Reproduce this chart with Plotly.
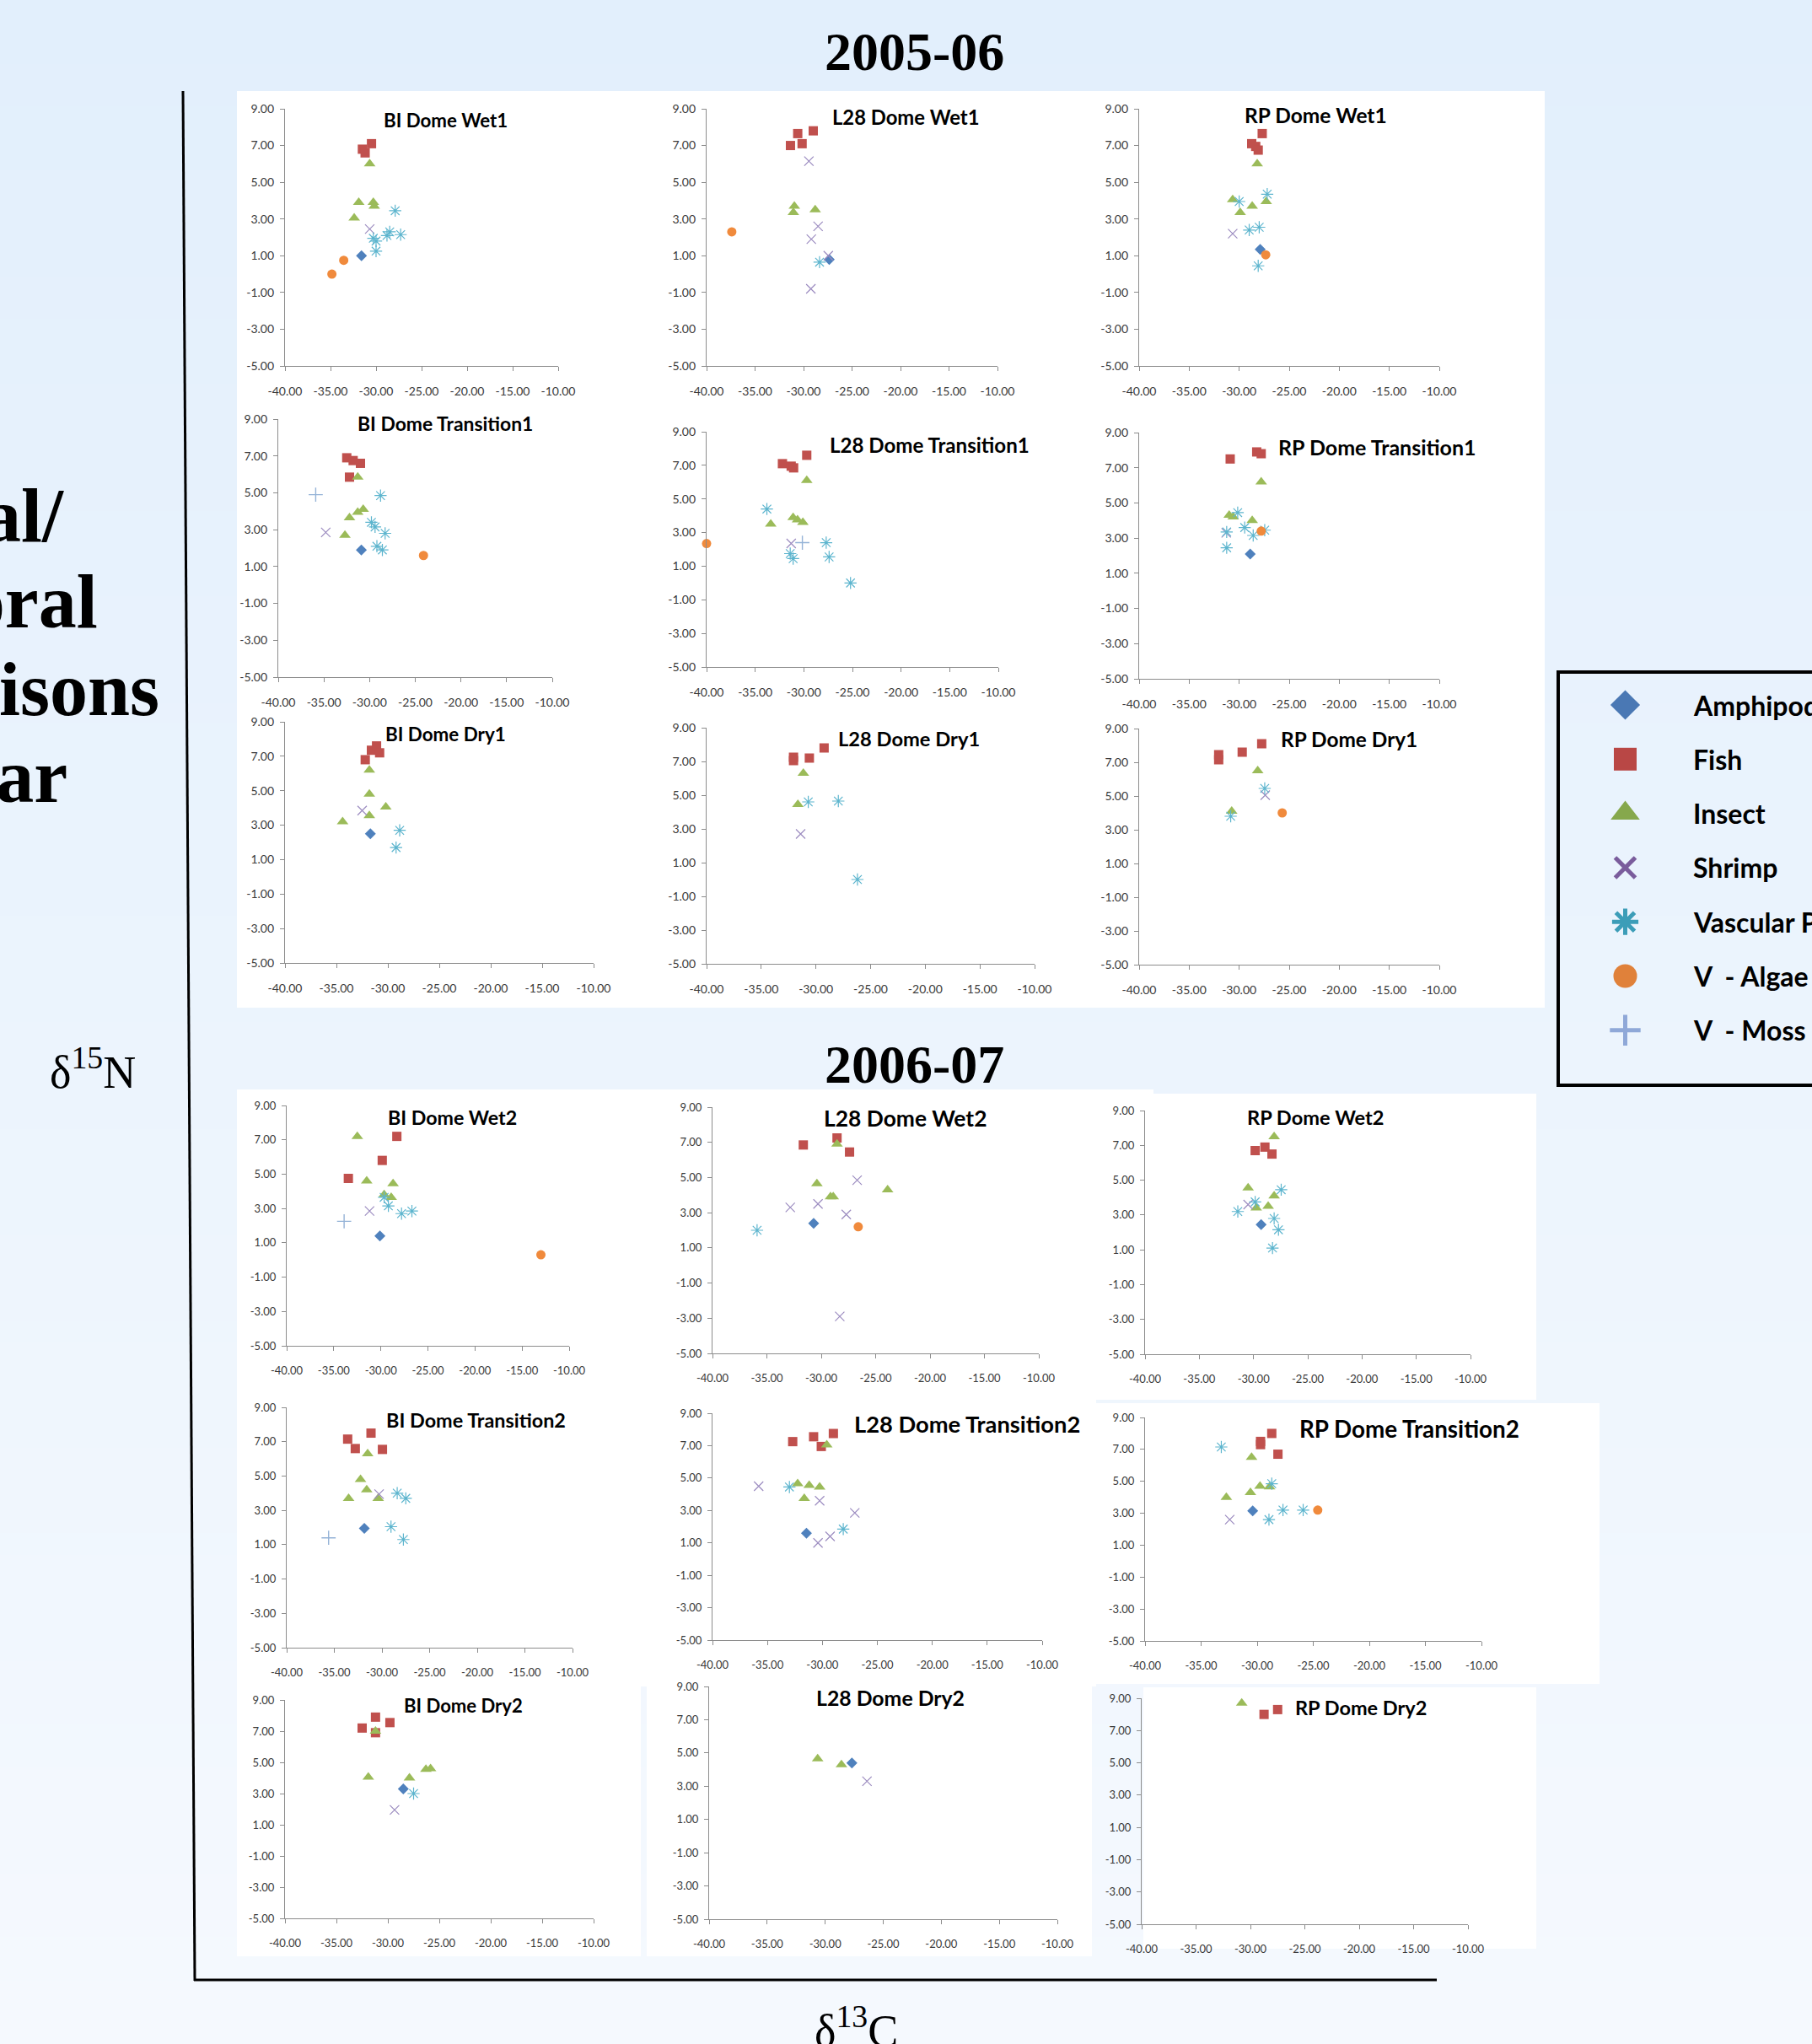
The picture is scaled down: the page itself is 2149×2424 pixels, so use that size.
import plotly.graph_objects as go

# ---------------------------------------------------------------------------
# Data: delta13C (x) and delta15N (y) values per site / season panel
# ---------------------------------------------------------------------------
CATEGORIES = ["Amphipod", "Fish", "Insect", "Shrimp", "Vascular Plant", "V - Algae", "V - Moss"]
LEGEND_LABELS = ["Amphipod", "Fish", "Insect", "Shrimp", "Vascular Plant", "V\u00a0 - Algae", "V\u00a0 - Moss"]

X_TICKS = [-40, -35, -30, -25, -20, -15, -10]
X_TICK_LABELS = ["-40.00", "-35.00", "-30.00", "-25.00", "-20.00", "-15.00", "-10.00"]
Y_TICKS = [9, 7, 5, 3, 1, -1, -3, -5]
Y_TICK_LABELS = ["9.00", "7.00", "5.00", "3.00", "1.00", "-1.00", "-3.00", "-5.00"]

PANEL_TITLES = [
    "BI Dome Wet1", "L28 Dome Wet1", "RP Dome Wet1",
    "BI Dome Transition1", "L28 Dome Transition1", "RP Dome Transition1",
    "BI Dome Dry1", "L28 Dome Dry1", "RP Dome Dry1",
    "BI Dome Wet2", "L28 Dome Wet2", "RP Dome Wet2",
    "BI Dome Transition2", "L28 Dome Transition2", "RP Dome Transition2",
    "BI Dome Dry2", "L28 Dome Dry2", "RP Dome Dry2",
]

YEAR_TITLES = ["2005-06", "2006-07"]

BI_WET1 = {
    "Amphipod": ([-31.6], [1.0]),
    "Fish": ([-31.5, -31.2, -30.5], [6.8, 6.6, 7.1]),
    "Insect": ([-30.7, -31.9, -30.3, -30.2, -32.4], [6.0, 3.9, 3.9, 3.7, 3.05]),
    "Shrimp": ([-30.7], [2.45]),
    "Vascular Plant": ([-27.9, -28.5, -28.8, -27.3, -30.3, -30.0, -30.0], [3.45, 2.3, 2.1, 2.15, 1.95, 1.8, 1.25]),
    "V - Algae": ([-33.55, -34.85], [0.75, 0.0]),
}
L28_WET1 = {
    "Amphipod": ([-27.35], [0.8]),
    "Fish": ([-31.35, -30.6, -30.15, -29.0], [7.0, 7.65, 7.1, 7.8]),
    "Insect": ([-30.95, -31.05, -28.8], [3.7, 3.35, 3.5]),
    "Shrimp": ([-29.45, -28.5, -29.2, -27.45, -29.25], [6.15, 2.6, 1.9, 1.0, -0.8]),
    "Vascular Plant": ([-28.35], [0.65]),
    "V - Algae": ([-37.4], [2.3]),
}
RP_WET1 = {
    "Amphipod": ([-27.9], [1.35]),
    "Fish": ([-27.7, -28.75, -28.35, -28.1], [7.65, 7.1, 6.95, 6.75]),
    "Insect": ([-28.2, -30.65, -29.9, -28.7, -27.3], [6.0, 4.05, 3.35, 3.7, 3.95]),
    "Shrimp": ([-30.65], [2.2]),
    "Vascular Plant": ([-30.0, -27.2, -29.0, -28.0, -28.1], [3.95, 4.35, 2.4, 2.55, 0.45]),
    "V - Algae": ([-27.35], [1.05]),
}
BI_TRANSITION1 = {
    "Amphipod": ([-30.9], [1.9]),
    "Fish": ([-32.5, -31.8, -31.0, -32.2], [6.9, 6.75, 6.6, 5.85]),
    "Insect": ([-31.3, -30.7, -31.3, -32.2, -32.7], [5.85, 4.1, 3.95, 3.65, 2.7]),
    "Shrimp": ([-34.8], [2.85]),
    "Vascular Plant": ([-28.8, -29.8, -29.4, -28.3, -29.2, -28.6], [4.85, 3.4, 3.15, 2.8, 2.1, 1.9]),
    "V - Algae": ([-24.1], [1.6]),
    "V - Moss": ([-35.9], [4.9]),
}
L28_TRANSITION1 = {
    "Fish": ([-32.2, -31.3, -31.05, -29.7], [7.1, 6.95, 6.85, 7.6]),
    "Insect": ([-29.7, -33.4, -31.1, -30.65, -30.1], [6.1, 3.5, 3.9, 3.75, 3.6]),
    "Shrimp": ([-31.3], [2.35]),
    "Vascular Plant": ([-33.8, -31.4, -31.1, -27.7, -27.4, -25.2], [4.4, 1.75, 1.45, 2.4, 1.55, 0.0]),
    "V - Algae": ([-40.0], [2.35]),
    "V - Moss": ([-30.15], [2.4]),
}
RP_TRANSITION1 = {
    "Amphipod": ([-28.9], [2.1]),
    "Fish": ([-30.9, -28.25, -27.8], [7.5, 7.9, 7.8]),
    "Insect": ([-27.8, -31.0, -30.6, -28.7], [6.2, 4.3, 4.2, 4.0]),
    "Shrimp": ([-31.3], [3.3]),
    "Vascular Plant": ([-30.15, -31.25, -31.25, -29.45, -28.6, -27.45], [4.45, 3.35, 2.45, 3.6, 3.15, 3.45]),
    "V - Algae": ([-27.8], [3.4]),
}
BI_DRY1 = {
    "Amphipod": ([-31.7], [2.5]),
    "Fish": ([-32.2, -31.6, -31.1, -30.8], [6.8, 7.35, 7.6, 7.2]),
    "Insect": ([-31.8, -31.8, -30.2, -31.8, -34.4], [6.2, 4.8, 4.05, 3.55, 3.2]),
    "Shrimp": ([-32.5], [3.85]),
    "Vascular Plant": ([-28.85, -29.2], [2.7, 1.7]),
}
L28_DRY1 = {
    "Fish": ([-32.05, -32.05, -30.6, -29.25], [7.05, 7.25, 7.2, 7.8]),
    "Insect": ([-31.15, -31.65], [6.3, 4.45]),
    "Shrimp": ([-31.4], [2.7]),
    "Vascular Plant": ([-30.7, -27.95, -26.2], [4.6, 4.65, 0.0]),
}
RP_DRY1 = {
    "Fish": ([-32.05, -32.05, -29.7, -27.75], [7.45, 7.15, 7.6, 8.1]),
    "Insect": ([-28.15, -30.75], [6.5, 4.1]),
    "Shrimp": ([-27.4], [5.05]),
    "Vascular Plant": ([-30.85, -27.45], [3.8, 5.45]),
    "V - Algae": ([-25.7], [4.0]),
}
BI_WET2 = {
    "Amphipod": ([-30.1], [1.4]),
    "Fish": ([-28.3, -29.85, -33.45], [7.2, 5.8, 4.75]),
    "Insect": ([-32.5, -31.5, -28.7, -29.65, -28.9], [7.2, 4.6, 4.45, 3.8, 3.65]),
    "Shrimp": ([-31.2], [2.85]),
    "Vascular Plant": ([-29.65, -29.2, -27.8, -26.7], [3.65, 3.15, 2.7, 2.85]),
    "V - Algae": ([-13.0], [0.3]),
    "V - Moss": ([-33.9], [2.25]),
}
L28_WET2 = {
    "Amphipod": ([-30.7], [2.4]),
    "Fish": ([-31.65, -28.55, -27.4], [6.85, 7.25, 6.45]),
    "Insect": ([-28.55, -30.4, -29.15, -28.9, -23.9], [6.9, 4.65, 3.9, 3.9, 4.3]),
    "Shrimp": ([-26.7, -32.85, -30.3, -27.7, -28.3], [4.85, 3.3, 3.5, 2.9, -2.9]),
    "Vascular Plant": ([-35.9], [2.0]),
    "V - Algae": ([-26.6], [2.2]),
}
RP_WET2 = {
    "Amphipod": ([-29.3], [2.45]),
    "Fish": ([-29.85, -28.95, -28.3], [6.7, 6.9, 6.5]),
    "Insect": ([-28.1, -30.5, -29.75, -28.65, -28.1], [7.5, 4.55, 3.4, 3.5, 4.1]),
    "Shrimp": ([-30.5], [3.6]),
    "Vascular Plant": ([-31.45, -29.85, -27.45, -28.1, -27.7, -28.25], [3.2, 3.75, 4.45, 2.8, 2.15, 1.1]),
}
BI_TRANSITION2 = {
    "Amphipod": ([-31.85], [1.95]),
    "Fish": ([-33.6, -32.8, -31.15, -29.95], [7.15, 6.6, 7.5, 6.55]),
    "Insect": ([-31.5, -32.25, -31.6, -33.5, -30.4], [6.3, 4.8, 4.2, 3.7, 3.7]),
    "Shrimp": ([-30.3], [3.95]),
    "Vascular Plant": ([-28.4, -27.5, -29.05, -27.75], [4.0, 3.7, 2.05, 1.3]),
    "V - Moss": ([-35.6], [1.4]),
}
L28_TRANSITION2 = {
    "Amphipod": ([-31.45], [1.6]),
    "Fish": ([-32.7, -30.8, -30.1, -29.0], [7.25, 7.55, 6.95, 7.75]),
    "Insect": ([-29.6, -32.25, -31.2, -30.25, -31.65], [7.05, 4.65, 4.55, 4.45, 3.75]),
    "Shrimp": ([-35.8, -30.25, -27.05, -29.3, -30.4], [4.5, 3.6, 2.85, 1.4, 1.0]),
    "Vascular Plant": ([-33.0, -28.1], [4.45, 1.85]),
}
RP_TRANSITION2 = {
    "Amphipod": ([-30.4], [3.15]),
    "Fish": ([-28.7, -29.7, -29.7, -28.15], [8.0, 7.5, 7.3, 6.7]),
    "Insect": ([-30.5, -32.75, -30.6, -29.75, -28.9], [6.5, 4.0, 4.3, 4.7, 4.65]),
    "Shrimp": ([-32.45], [2.6]),
    "Vascular Plant": ([-33.2, -28.7, -28.95, -27.7, -25.9], [7.15, 4.85, 2.6, 3.2, 3.2]),
    "V - Algae": ([-24.6], [3.2]),
}
BI_DRY2 = {
    "Amphipod": ([-28.5], [3.3]),
    "Fish": ([-32.5, -31.2, -29.8, -31.2], [7.2, 7.9, 7.55, 6.9]),
    "Insect": ([-31.2, -31.9, -27.9, -26.3, -25.85], [7.0, 4.05, 4.0, 4.55, 4.6]),
    "Shrimp": ([-29.35], [1.95]),
    "Vascular Plant": ([-27.5], [3.0]),
}
L28_DRY2 = {
    "Amphipod": ([-27.7], [4.4]),
    "Insect": ([-30.65, -28.6], [4.65, 4.3]),
    "Shrimp": ([-26.4], [3.3]),
}
RP_DRY2 = {
    "Fish": ([-28.75, -27.5], [8.0, 8.3]),
    "Insect": ([-30.8], [8.7]),
}

PANELS = [
    BI_WET1, L28_WET1, RP_WET1,
    BI_TRANSITION1, L28_TRANSITION1, RP_TRANSITION1,
    BI_DRY1, L28_DRY1, RP_DRY1,
    BI_WET2, L28_WET2, RP_WET2,
    BI_TRANSITION2, L28_TRANSITION2, RP_TRANSITION2,
    BI_DRY2, L28_DRY2, RP_DRY2,
]

# ---------------------------------------------------------------------------
# Layout geometry (pixels on a 2149 x 2424 canvas)
# ---------------------------------------------------------------------------
W, H = 2149, 2424

# plot-area boxes: left, right, top (y = 9), bottom (y = -5)
BOXES = [
    (338, 662, 129, 434), (838, 1183, 129, 434), (1351, 1707, 129, 434),
    (330, 655, 497, 803), (838, 1184, 512, 791), (1351, 1707, 513, 805),
    (338, 704, 856, 1142), (838, 1227, 863, 1143), (1351, 1707, 864, 1144),
    (340, 675, 1311, 1596), (845, 1232, 1313, 1605), (1358, 1744, 1317, 1606),
    (340, 679, 1669, 1954), (845, 1236, 1676, 1945), (1358, 1757, 1681, 1946),
    (338, 704, 2016, 2275), (841, 1254, 2000, 2276), (1354, 1741, 2014, 2282),
]
# panel title centres and font sizes
TITLE_POS = [
    (528, 143), (1074, 139), (1560, 136),
    (528, 502), (1102, 527), (1633, 530),
    (528, 870), (1078, 876), (1600, 876),
    (536, 1325), (1073, 1326), (1560, 1325),
    (564, 1684), (1147, 1688), (1671, 1694),
    (549, 2022), (1056, 2013), (1614, 2025),
]
TITLE_SIZE = [
    22.3, 23.8, 24.5,
    22.9, 24.1, 25.0,
    22.4, 23.7, 24.4,
    23.2, 26.4, 23.6,
    23.4, 27.3, 27.8,
    22.1, 24.8, 23.5,
]

STYLE = {
    "Amphipod": dict(symbol="diamond", size=10, color="#4F81BD"),
    "Fish": dict(symbol="square", size=11, color="#C0504D"),
    "Insect": dict(symbol="triangle-up", size=12, color="#9BBB59"),
    "Shrimp": dict(symbol="x-thin-open", size=11, color="#9C8CC0", line=dict(color="#9C8CC0", width=1.2)),
    "Vascular Plant": dict(symbol="asterisk-open", size=12, color="#5DB5CE", line=dict(color="#5DB5CE", width=1.2)),
    "V - Algae": dict(symbol="circle", size=11, color="#F08A3C"),
    "V - Moss": dict(symbol="cross-thin-open", size=12, color="#95B3D7", line=dict(color="#95B3D7", width=1.4)),
}
LEGEND_STYLE = {
    "Amphipod": dict(symbol="diamond", size=27, color="#4A78B4"),
    "Fish": dict(symbol="square", size=27, color="#B94745"),
    "Insect": dict(symbol="triangle-up", size=30, color="#86A84C"),
    "Shrimp": dict(symbol="x-thin-open", size=24, color="#7A5C9C", line=dict(color="#7A5C9C", width=5)),
    "Vascular Plant": dict(symbol="asterisk-open", size=26, color="#3C9DB8", line=dict(color="#3C9DB8", width=5)),
    "V - Algae": dict(symbol="circle", size=28, color="#E0813A"),
    "V - Moss": dict(symbol="cross-thin-open", size=26, color="#8FA8D8", line=dict(color="#8FA8D8", width=5)),
}

CHART_FONT = "Lato, sans-serif"
AXIS_COLOR = "#8C8C8C"


def px(x):
    return x / W


def py(y):
    return 1 - y / H


fig = go.Figure()
layout = dict(
    width=W, height=H,
    margin=dict(l=0, r=0, t=0, b=0, autoexpand=False),
    paper_bgcolor="#F3F8FE",
    plot_bgcolor="rgba(0,0,0,0)",
    showlegend=False,
)
shapes = []
annotations = []

# soft vertical background gradient
N_STRIPS = 96
top_rgb, bot_rgb = (226, 239, 252), (245, 249, 254)
for i in range(N_STRIPS):
    t = i / (N_STRIPS - 1)
    c = tuple(round(a + (b - a) * t) for a, b in zip(top_rgb, bot_rgb))
    y0 = H * i / N_STRIPS
    y1 = H * (i + 1) / N_STRIPS + 1
    shapes.append(dict(type="rect", xref="paper", yref="paper", layer="below",
                       x0=0, x1=1, y0=py(y1), y1=py(y0), line=dict(width=0),
                       fillcolor="rgb(%d,%d,%d)" % c))

# white chart panels
WHITE_PANELS = [
    (281, 108, 1832, 1195),
    (281, 1292, 1368, 1660), (1368, 1297, 1822, 1660),
    (281, 1660, 1300, 2000), (1300, 1664, 1897, 1997),
    (281, 2000, 760, 2320), (767, 1990, 1295, 2320), (1356, 2001, 1822, 2311),
]
for x0, y0, x1, y1 in WHITE_PANELS:
    shapes.append(dict(type="rect", xref="paper", yref="paper", layer="below",
                       x0=px(x0), x1=px(x1), y0=py(y1), y1=py(y0),
                       line=dict(width=0), fillcolor="#FFFFFF"))

# scatter panels
for k, (panel, box, title, tpos, tsize) in enumerate(zip(PANELS, BOXES, PANEL_TITLES, TITLE_POS, TITLE_SIZE)):
    n = k + 1
    xa, ya = ("xaxis%d" % n if n > 1 else "xaxis"), ("yaxis%d" % n if n > 1 else "yaxis")
    xr, yr = ("x%d" % n if n > 1 else "x"), ("y%d" % n if n > 1 else "y")
    left, right, top, bottom = box
    tick_size = 14 if n <= 9 else 13
    layout[xa] = dict(domain=[px(left), px(right)], anchor=yr, range=[-40, -10],
                      tickmode="array", tickvals=X_TICKS, ticktext=X_TICK_LABELS,
                      showgrid=False, zeroline=False, showline=True,
                      linecolor=AXIS_COLOR, linewidth=1.2, ticks="outside", ticklen=5,
                      tickcolor=AXIS_COLOR, ticklabelstandoff=12,
                      tickfont=dict(family=CHART_FONT, size=tick_size, color="#3A3A3A"))
    layout[ya] = dict(domain=[py(bottom), py(top)], anchor=xr, range=[-5, 9],
                      tickmode="array", tickvals=Y_TICKS, ticktext=Y_TICK_LABELS,
                      showgrid=False, zeroline=False, showline=True,
                      linecolor=AXIS_COLOR, linewidth=1.2, ticks="outside", ticklen=5,
                      tickcolor=AXIS_COLOR, ticklabelstandoff=4,
                      tickfont=dict(family=CHART_FONT, size=tick_size, color="#3A3A3A"))
    for cat in CATEGORIES:
        if cat not in panel:
            continue
        xs, ys = panel[cat]
        fig.add_trace(go.Scatter(x=xs, y=ys, mode="markers", xaxis=xr, yaxis=yr,
                                 marker=STYLE[cat], cliponaxis=False, name=cat,
                                 hoverinfo="skip"))
    annotations.append(dict(text=title, xref="paper", yref="paper",
                            x=px(tpos[0]), y=py(tpos[1]), xanchor="center", yanchor="middle",
                            showarrow=False,
                            font=dict(family=CHART_FONT, size=tsize, color="#000000", weight="bold")))

# legend (drawn on its own hidden axes)
LEG = len(PANELS) + 1
LEG_TOP, LEG_ROW, LEG_Y0, LEG_Y1 = 836, 64.3, 800, 1250
layout["xaxis%d" % LEG] = dict(domain=[px(1880), px(1975)], anchor="y%d" % LEG, range=[-1, 1], visible=False)
layout["yaxis%d" % LEG] = dict(domain=[py(LEG_Y1), py(LEG_Y0)], anchor="x%d" % LEG,
                               range=[(LEG_Y1 - LEG_TOP) / LEG_ROW, (LEG_Y0 - LEG_TOP) / LEG_ROW],
                               visible=False)
for i, (cat, label) in enumerate(zip(CATEGORIES, LEGEND_LABELS)):
    fig.add_trace(go.Scatter(x=[0], y=[i], mode="markers", xaxis="x%d" % LEG, yaxis="y%d" % LEG,
                             marker=LEGEND_STYLE[cat], cliponaxis=False, name=cat, hoverinfo="skip"))
    annotations.append(dict(text=label, xref="x%d" % LEG, yref="y%d" % LEG, x=0, y=i,
                            xshift=78, xanchor="left", yanchor="middle", showarrow=False,
                            font=dict(family="Lato, sans-serif", size=32, color="#000000", weight="bold")))
shapes.append(dict(type="rect", xref="paper", yref="paper", x0=px(1848), x1=px(2175),
                   y0=py(1287), y1=py(797), line=dict(color="#000000", width=4),
                   fillcolor="rgba(0,0,0,0)"))

# frame lines for the shared axes
shapes.append(dict(type="line", xref="paper", yref="paper", x0=px(217), x1=px(231),
                   y0=py(108), y1=py(2349), line=dict(color="#000000", width=3)))
shapes.append(dict(type="line", xref="paper", yref="paper", x0=px(230), x1=px(1704),
                   y0=py(2348), y1=py(2348), line=dict(color="#000000", width=3)))

# year headings
for text, (cx, cy) in zip(YEAR_TITLES, [(1084, 62), (1084, 1262)]):
    annotations.append(dict(text=text, xref="paper", yref="paper", x=px(cx), y=py(cy),
                            xanchor="center", yanchor="middle", showarrow=False,
                            font=dict(family="Liberation Serif, serif", size=64, color="#000000", weight="bold")))

# slide title running off the left edge
for text, (rx, cy) in zip(["Spatial/", "Temporal", "Comparisons", "by Year"],
                          [(78, 611), (118, 713), (191, 817), (82, 920)]):
    annotations.append(dict(text=text, xref="paper", yref="paper", x=px(rx), y=py(cy),
                            xanchor="right", yanchor="middle", showarrow=False,
                            font=dict(family="Liberation Serif, serif", size=90, color="#000000", weight="bold")))

# isotope axis labels
annotations.append(dict(text="\u03b4<sup>15</sup>N", xref="paper", yref="paper", x=px(110), y=py(1268),
                        xanchor="center", yanchor="middle", showarrow=False,
                        font=dict(family="Liberation Serif, serif", size=54, color="#000000")))
annotations.append(dict(text="\u03b4<sup>13</sup>C", xref="paper", yref="paper", x=px(1015), y=py(2404),
                        xanchor="center", yanchor="middle", showarrow=False,
                        font=dict(family="Liberation Serif, serif", size=54, color="#000000")))

layout["shapes"] = shapes
layout["annotations"] = annotations
fig.update_layout(**layout)
fig.write_html("out.html")
